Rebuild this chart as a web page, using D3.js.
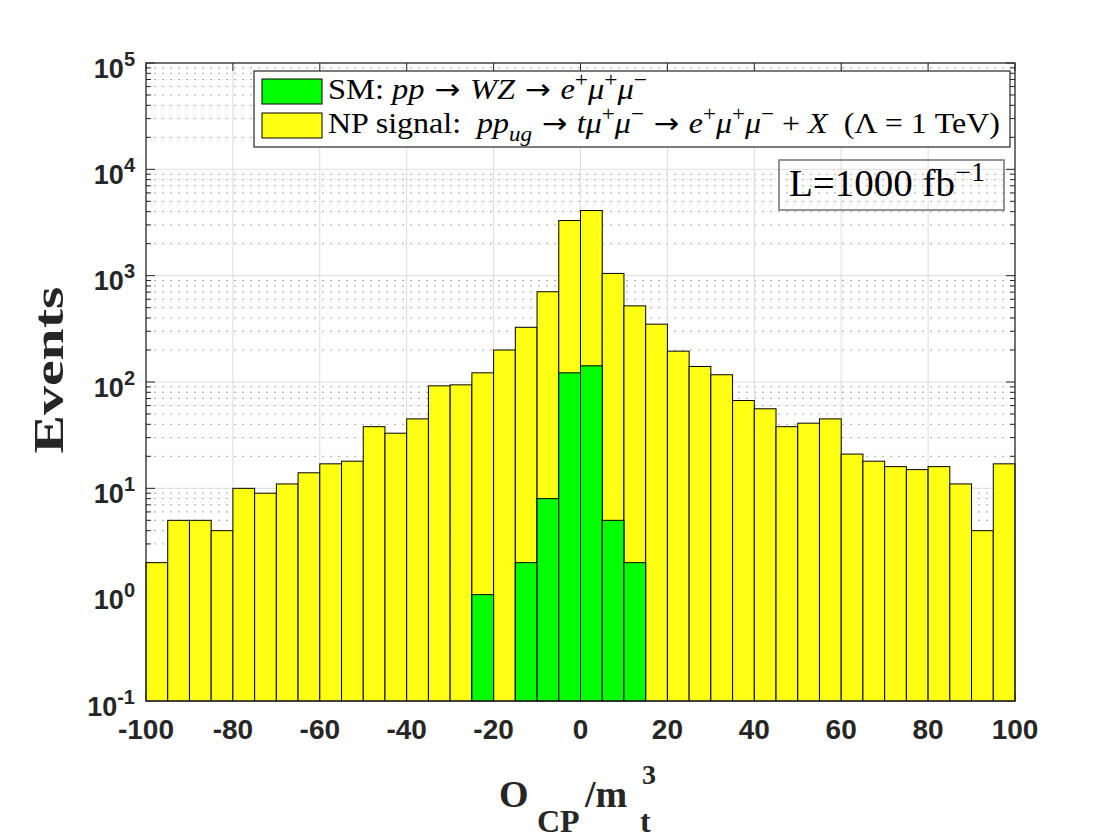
<!DOCTYPE html>
<html>
<head>
<meta charset="utf-8">
<script src="https://cdn.jsdelivr.net/npm/d3@7/dist/d3.min.js"></script>
<style>
  body { margin: 0; background: #fff; }
  svg { display: block; }
</style>
</head>
<body>
<div id="chart"></div>
<script>
// bin left edges of the O_CP/m_t^3 histogram (width 5)
var binEdges = [-100, -95, -90, -85, -80, -75, -70, -65, -60, -55,
                -50, -45, -40, -35, -30, -25, -20, -15, -10, -5,
                0, 5, 10, 15, 20, 25, 30, 35, 40, 45,
                50, 55, 60, 65, 70, 75, 80, 85, 90, 95];
var binWidth = 5;

// NP signal events per bin
var npEvents = [2, 5, 5, 4, 10, 9, 11, 14, 17, 18,
                38, 33, 45, 92, 94, 122, 200, 327, 706, 3300,
                4100, 1050, 520, 350, 195, 140, 117, 67, 56, 38,
                41, 45, 21, 18, 16, 15, 16, 11, 4, 17];

// SM background events per bin
var smEvents = [0, 0, 0, 0, 0, 0, 0, 0, 0, 0,
                0, 0, 0, 0, 0, 1, 0, 2, 8, 122,
                142, 5, 2, 0, 0, 0, 0, 0, 0, 0,
                0, 0, 0, 0, 0, 0, 0, 0, 0, 0];

var xTicks = [-100, -80, -60, -40, -20, 0, 20, 40, 60, 80, 100];
var yDecades = [5, 4, 3, 2, 1, 0, -1];

var width = 1120, height = 840;
var plot = { left: 146, right: 1015, top: 63, bottom: 701 };
var axisColor = "#262626";
var yellow = "#ffff14", green = "#00ff00";

var svg = d3.select("#chart").append("svg")
    .attr("width", width)
    .attr("height", height);

var x = d3.scaleLinear().domain([-100, 100]).range([plot.left, plot.right]);
var y = d3.scaleLog().domain([0.1, 1e5]).range([plot.bottom, plot.top]);

// minor values 2..9 per decade
var minorVals = [];
yDecades.slice(1).forEach(function(p) {
  for (var m = 2; m <= 9; m++) minorVals.push(m * Math.pow(10, p));
});

// grid
var grid = svg.append("g");
grid.selectAll(".minor").data(minorVals).enter().append("line")
  .attr("x1", plot.left).attr("x2", plot.right)
  .attr("y1", d => y(d)).attr("y2", d => y(d))
  .attr("stroke", "#a8a8a8").attr("stroke-width", 1)
  .attr("stroke-dasharray", "2,6");
grid.selectAll(".majorY").data(yDecades.slice(1, -1)).enter().append("line")
  .attr("x1", plot.left).attr("x2", plot.right)
  .attr("y1", d => y(Math.pow(10, d))).attr("y2", d => y(Math.pow(10, d)))
  .attr("stroke", "#dcdcdc").attr("stroke-width", 1);
grid.selectAll(".majorX").data(xTicks.slice(1, -1)).enter().append("line")
  .attr("x1", d => x(d)).attr("x2", d => x(d))
  .attr("y1", plot.top).attr("y2", plot.bottom)
  .attr("stroke", "#dcdcdc").attr("stroke-width", 1);

// ticks (inward)
var ticks = svg.append("g").attr("stroke", axisColor).attr("stroke-width", 1);
yDecades.forEach(function(p) {
  var yy = y(Math.pow(10, p));
  ticks.append("line").attr("x1", plot.left).attr("x2", plot.left + 9).attr("y1", yy).attr("y2", yy);
  ticks.append("line").attr("x1", plot.right).attr("x2", plot.right - 9).attr("y1", yy).attr("y2", yy);
});
minorVals.forEach(function(v) {
  var yy = y(v);
  ticks.append("line").attr("x1", plot.left).attr("x2", plot.left + 5).attr("y1", yy).attr("y2", yy);
  ticks.append("line").attr("x1", plot.right).attr("x2", plot.right - 5).attr("y1", yy).attr("y2", yy);
});
xTicks.forEach(function(t) {
  ticks.append("line").attr("x1", x(t)).attr("x2", x(t)).attr("y1", plot.top).attr("y2", plot.top + 8);
  ticks.append("line").attr("x1", x(t)).attr("x2", x(t)).attr("y1", plot.bottom).attr("y2", plot.bottom - 8);
});

// bars: NP signal, then SM in front
var bars = svg.append("g");
bars.selectAll(".np").data(binEdges).enter().append("rect")
  .attr("x", d => x(d))
  .attr("width", d => x(d + binWidth) - x(d))
  .attr("y", (d, i) => y(npEvents[i]))
  .attr("height", (d, i) => y(0.1) - y(npEvents[i]))
  .attr("fill", yellow).attr("stroke", "#000").attr("stroke-width", 1);
bars.selectAll(".sm").data(binEdges.filter((d, i) => smEvents[i] > 0)).enter().append("rect")
  .attr("x", d => x(d))
  .attr("width", d => x(d + binWidth) - x(d))
  .attr("y", d => y(smEvents[binEdges.indexOf(d)]))
  .attr("height", d => y(0.1) - y(smEvents[binEdges.indexOf(d)]))
  .attr("fill", green).attr("stroke", "#000").attr("stroke-width", 1);

// axes box
svg.append("rect")
  .attr("x", plot.left).attr("y", plot.top)
  .attr("width", plot.right - plot.left).attr("height", plot.bottom - plot.top)
  .attr("fill", "none").attr("stroke", axisColor).attr("stroke-width", 1.3);

// tick labels
var tickFont = "'Liberation Sans', Arial, Helvetica, sans-serif";
svg.append("g").selectAll("text").data(xTicks).enter().append("text")
  .attr("x", d => x(d)).attr("y", 739)
  .attr("text-anchor", "middle")
  .attr("font-family", tickFont).attr("font-weight", "bold").attr("font-size", 28)
  .attr("fill", axisColor)
  .text(d => d);

var yl = svg.append("g").selectAll("text").data(yDecades).enter().append("text")
  .attr("x", 135).attr("y", d => y(Math.pow(10, d)) + 14.5)
  .attr("text-anchor", "end")
  .attr("font-family", tickFont).attr("font-weight", "bold")
  .attr("fill", axisColor);
yl.append("tspan").attr("font-size", 27).text("10");
yl.append("tspan").attr("font-size", 20).attr("dy", -12).text(d => d);

// axis labels
var serif = "'Liberation Serif', 'Times New Roman', Times, serif";
svg.append("text")
  .attr("transform", "translate(63,370) rotate(-90)")
  .attr("text-anchor", "middle")
  .attr("font-family", serif).attr("font-weight", "bold").attr("font-size", 42)
  .attr("textLength", 167).attr("lengthAdjust", "spacingAndGlyphs")
  .attr("fill", axisColor)
  .text("Events");

var xl = svg.append("g").attr("font-family", serif).attr("font-weight", "bold").attr("fill", axisColor);
xl.append("text").attr("x", 499).attr("y", 807).attr("font-size", 38).text("O");
xl.append("text").attr("x", 537).attr("y", 832).attr("font-size", 32).text("CP");
xl.append("text").attr("x", 585).attr("y", 807).attr("font-size", 38).text("/m");
xl.append("text").attr("x", 640).attr("y", 832).attr("font-size", 32).text("t");
xl.append("text").attr("x", 642).attr("y", 784).attr("font-size", 28).text("3");

// legend rows: [text, style]
var legendRows = [
  { color: green, len: 319,
    segs: [["SM: "], ["pp", "i"], [" \u2192 ", "op"], ["WZ", "i"], [" \u2192 ", "op"],
           ["e", "i"], ["+", "sup"], ["\u03bc", "i"], ["+", "sup"], ["\u03bc", "i"], ["\u2212", "sup"]] },
  { color: yellow, len: 672,
    segs: [["NP signal:  "], ["pp", "i"], ["ug", "sub"], [" \u2192 ", "op"], ["t\u03bc", "i"], ["+", "sup"],
           ["\u03bc", "i"], ["\u2212", "sup"], [" \u2192 ", "op"], ["e", "i"], ["+", "sup"], ["\u03bc", "i"],
           ["+", "sup"], ["\u03bc", "i"], ["\u2212", "sup"], [" + "], ["X", "i"], ["  (\u039b = 1 TeV)"]] }
];

var legend = svg.append("g");
legend.append("rect")
  .attr("x", 254).attr("y", 71).attr("width", 756).attr("height", 76)
  .attr("fill", "#fff").attr("stroke", axisColor).attr("stroke-width", 1.2);

function addRich(g, x0, y0, segs, size, len) {
  var t = g.append("text").attr("x", x0).attr("y", y0)
    .attr("font-family", serif).attr("font-size", size).attr("fill", "#000")
    .attr("xml:space", "preserve").style("white-space", "pre");
  var shift = 0;
  segs.forEach(function(s) {
    var target = s[1] === "sup" ? -size * 0.4 : s[1] === "sub" ? size * 0.25 : 0;
    var ts = t.append("tspan").attr("dy", target - shift).text(s[0]);
    shift = target;
    if (s[1] === "i" || s[1] === "sub") ts.attr("font-style", "italic");
    if (s[1] === "sup" || s[1] === "sub") ts.attr("font-size", size * 0.72);
    if (s[1] === "op") ts.attr("font-family", "'DejaVu Sans', sans-serif").attr("font-size", size * 0.95);
  });
  if (len) t.attr("textLength", len).attr("lengthAdjust", "spacingAndGlyphs");
  return t;
}

legendRows.forEach(function(r, i) {
  legend.append("rect")
    .attr("x", 262).attr("y", 79 + i * 34).attr("width", 60).attr("height", 25)
    .attr("fill", r.color).attr("stroke", "#000").attr("stroke-width", 1);
  addRich(legend, 328, 99 + i * 34, r.segs, 30, r.len);
});

// luminosity box
svg.append("rect")
  .attr("x", 779).attr("y", 160).attr("width", 225).attr("height", 50)
  .attr("fill", "none").attr("stroke", "#7a7a7a").attr("stroke-width", 1.6);
addRich(svg, 789, 196, [["L=1000 fb"], ["\u22121", "sup"]], 37, 196);
</script>
</body>
</html>
